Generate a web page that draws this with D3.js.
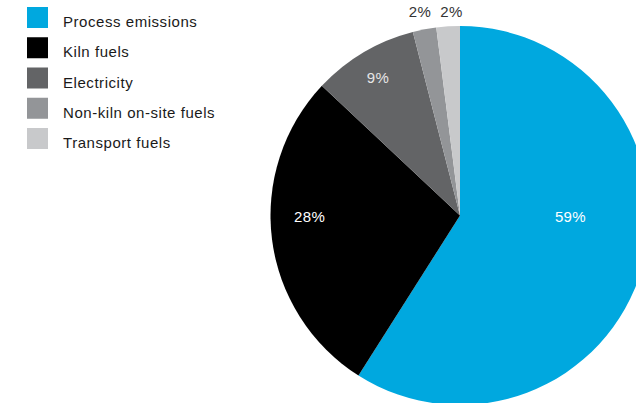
<!DOCTYPE html>
<html>
<head>
<meta charset="utf-8">
<script src="https://cdn.jsdelivr.net/npm/d3@7"></script>
<style>
  html, body { margin: 0; padding: 0; background: #fff; }
  svg { display: block; font-family: "Liberation Sans", Arial, Helvetica, sans-serif; }
</style>
</head>
<body>
<svg id="chart" width="636" height="403"></svg>
<script>
// Cement CO2 emission sources (share of total, %)
const categories = ["Process emissions", "Kiln fuels", "Electricity", "Non-kiln on-site fuels", "Transport fuels"];
const shares = [59, 28, 9, 2, 2];
const valueLabels = ["59%", "28%", "9%", "2%", "2%"];
const colors = ["#00a8df", "#000000", "#636466", "#939598", "#c8c9cb"];

const svg = d3.select("#chart");
const cx = 460, cy = 215.5, R = 189.5;

// label placement, relative to the pie centre
const labelLayout = [
  { dx: 110.5, dy: 6.5, fill: "#ffffff" },
  { dx: -150.3, dy: 6.5, fill: "#ffffff" },
  { mode: "centroid", r: 161, fill: "#e6e6e6" },
  { dx: -40, dy: -198.5, fill: "#333333" },
  { dx: -8.5, dy: -198.5, fill: "#333333" }
];

const data = categories.map((c, i) => ({ cat: c, value: shares[i], label: valueLabels[i], color: colors[i] }));

const pie = d3.pie().value(d => d.value).sort(null);
const arc = d3.arc().innerRadius(0).outerRadius(R);
const arcs = pie(data);

const g = svg.append("g").attr("transform", `translate(${cx},${cy})`);

g.selectAll("path.slice")
  .data(arcs)
  .join("path")
  .attr("class", "slice")
  .attr("d", arc)
  .attr("fill", d => d.data.color);

function labelPos(d, i) {
  const L = labelLayout[i];
  if (L.mode === "centroid") {
    const c = d3.arc().innerRadius(L.r).outerRadius(L.r).centroid(d);
    return [c[0], c[1] + 6.5];
  }
  return [L.dx, L.dy];
}

g.selectAll("text.val")
  .data(arcs)
  .join("text")
  .attr("class", "val")
  .attr("text-anchor", "middle")
  .attr("font-size", 15)
  .attr("letter-spacing", 0.4)
  .attr("fill", (d, i) => labelLayout[i].fill)
  .attr("x", (d, i) => labelPos(d, i)[0])
  .attr("y", (d, i) => labelPos(d, i)[1])
  .text(d => d.data.label);

// legend
const legendY = d3.scalePoint().domain(categories).range([7, 128]);
const rows = svg.append("g").selectAll("g.row")
  .data(data)
  .join("g")
  .attr("class", "row")
  .attr("transform", d => `translate(27,${legendY(d.cat)})`);

rows.append("rect")
  .attr("width", 21)
  .attr("height", 21)
  .attr("fill", d => d.color);

rows.append("text")
  .attr("x", 36)
  .attr("y", 20)
  .attr("font-size", 15)
  .attr("letter-spacing", 0.55)
  .attr("fill", "#1a1a1a")
  .text(d => d.cat);
</script>
</body>
</html>
